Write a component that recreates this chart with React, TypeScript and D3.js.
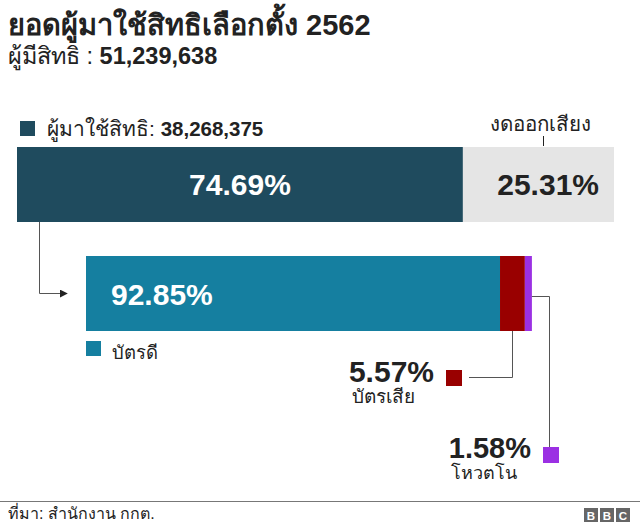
import React from "react";
import * as d3 from "d3";

const totalEligible = "51,239,638";
const totalVoters = "38,268,375";
const turnoutCategories = ["ผู้มาใช้สิทธิ", "งดออกเสียง"];
const turnoutValues = [74.69, 25.31];
const ballotCategories = ["บัตรดี", "บัตรเสีย", "โหวตโน"];
const ballotValues = [92.85, 5.57, 1.58];

const W = 640;
const H = 526;
const FONT = "'Liberation Sans', Arial, 'Noto Sans', sans-serif";

const C_DARK = "#1f4b5e";
const C_LIGHT = "#e5e5e5";
const C_TEAL = "#157fa0";
const C_RED = "#990000";
const C_PURPLE = "#9b30e3";
const C_LINE = "#555555";

export default function App() {
  const xTop = d3.scaleLinear().domain([0, 100]).range([17, 614]);
  const topStack = d3.cumsum(turnoutValues);
  const topSegs = turnoutValues.map((v, i) => ({
    x0: xTop(topStack[i] - v),
    x1: xTop(topStack[i]),
    v,
  }));
  const voterWidth = xTop(turnoutValues[0]) - xTop(0);
  const xBot = d3.scaleLinear().domain([0, 100]).range([86, 86 + voterWidth]);
  const botStack = d3.cumsum(ballotValues);
  const botSegs = ballotValues.map((v, i) => ({
    x0: xBot(botStack[i] - v),
    x1: xBot(botStack[i]),
    v,
  }));
  const botColors = [C_TEAL, C_RED, C_PURPLE];
  const topY = 147, topH = 75;
  const botY = 256, botH = 75;

  const redMid = (botSegs[1].x0 + botSegs[1].x1) / 2;
  const purpleEnd = botSegs[2].x1;
  const fmt = (v: number) => d3.format(".2f")(v) + "%";
  const PCT = 30;

  return (
    <svg width={W} height={H} style={{ position: "absolute", left: 0, top: 0, background: "#fff" }} fontFamily={FONT}>
      <defs>
        <marker id="arr" viewBox="0 0 10 10" refX="9" refY="5" markerWidth="8" markerHeight="8" orient="auto" markerUnits="userSpaceOnUse">
          <path d="M0,0 L10,5 L0,10 z" fill="#222" />
        </marker>
      </defs>
      {/* Title */}
      <text x={8} y={35} fontSize={29} fontWeight="bold" fill="#222">ยอดผู้มาใช้สิทธิเลือกตั้ง 2562</text>
      <text x={8} y={64} fontSize={23.5} fill="#222">
        ผู้มีสิทธิ : <tspan fontWeight="bold">{totalEligible}</tspan>
      </text>

      {/* Top legend */}
      <rect x={20} y={121} width={15} height={15} fill={C_DARK} />
      <text x={47} y={136} fontSize={21} fill="#222">
        {turnoutCategories[0]}: <tspan fontWeight="bold" fontSize={20.5}>{totalVoters}</tspan>
      </text>
      <text x={540} y={131} fontSize={20.5} fill="#222" textAnchor="middle">{turnoutCategories[1]}</text>
      <line x1={543.5} x2={543.5} y1={136} y2={146} stroke="#222" strokeWidth={1} />

      {/* Top bar */}
      {topSegs.map((s, i) => (
        <rect key={i} x={s.x0} y={topY} width={s.x1 - s.x0} height={topH} fill={i === 0 ? C_DARK : C_LIGHT} />
      ))}
      <text x={(topSegs[0].x0 + topSegs[0].x1) / 2} y={195} fontSize={PCT} fontWeight="bold" fill="#fff" textAnchor="middle">{fmt(turnoutValues[0])}</text>
      <text x={topSegs[1].x1 - 15} y={195} fontSize={PCT} fontWeight="bold" fill="#222" textAnchor="end">{fmt(turnoutValues[1])}</text>

      {/* Connector arrow */}
      <path d={`M39.5,${topY + topH} V293.5 H67`} fill="none" stroke={C_LINE} strokeWidth={1} markerEnd="url(#arr)" />

      {/* Bottom bar */}
      {botSegs.map((s, i) => (
        <rect key={i} x={s.x0} y={botY} width={s.x1 - s.x0} height={botH} fill={botColors[i]} />
      ))}
      <text x={111} y={305} fontSize={PCT} fontWeight="bold" fill="#fff">{fmt(ballotValues[0])}</text>

      {/* Bottom legend */}
      <rect x={86} y={341} width={15} height={15} fill={C_TEAL} />
      <text x={112} y={359} fontSize={18.5} fill="#222">{ballotCategories[0]}</text>

      {/* Red callout */}
      <path d={`M${Math.round(redMid) + 0.5},${botY + botH} V377.5 H469`} fill="none" stroke={C_LINE} strokeWidth={1} />
      <rect x={446} y={370} width={16} height={16} fill={C_RED} />
      <text x={434} y={382} fontSize={PCT} fontWeight="bold" fill="#222" textAnchor="end">{fmt(ballotValues[1])}</text>
      <text x={352} y={403} fontSize={19} fill="#222">{ballotCategories[1]}</text>

      {/* Purple callout */}
      <path d={`M${purpleEnd},296.5 H549.5 V447`} fill="none" stroke={C_LINE} strokeWidth={1} />
      <rect x={543} y={447} width={16} height={16} fill={C_PURPLE} />
      <text x={531} y={458} fontSize={29} fontWeight="bold" fill="#222" textAnchor="end">{fmt(ballotValues[2])}</text>
      <text x={451} y={479} fontSize={18} fill="#222">{ballotCategories[2]}</text>

      {/* Footer */}
      <line x1={0} x2={W} y1={501.5} y2={501.5} stroke="#777" strokeWidth={1} />
      <text x={8} y={519} fontSize={16} fill="#222">ที่มา: สำนักงาน กกต.</text>
      {["B", "B", "C"].map((l, i) => (
        <g key={i}>
          <rect x={584 + i * 16} y={508} width={14} height={14} fill="#666" />
          <text x={591 + i * 16} y={519.5} fontSize={11.5} fill="#fff" textAnchor="middle" fontWeight="bold">{l}</text>
        </g>
      ))}
    </svg>
  );
}
